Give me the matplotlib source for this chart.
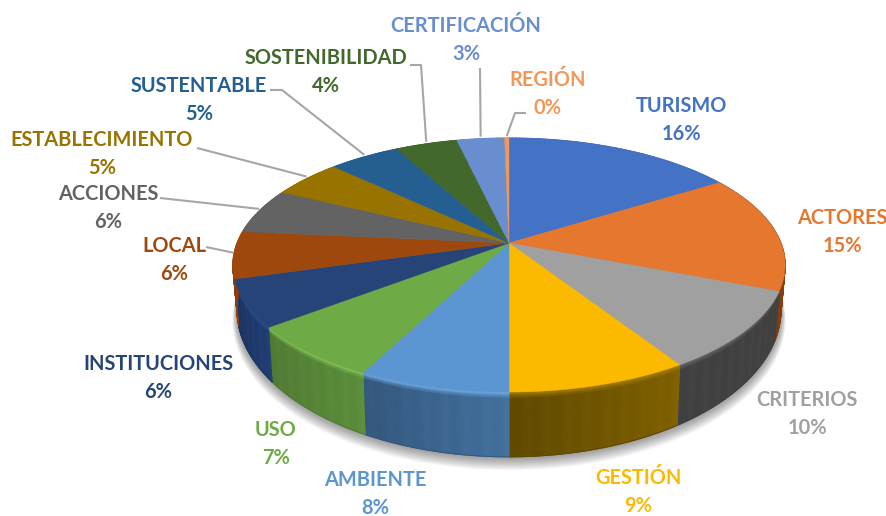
import numpy as np
import matplotlib
matplotlib.use("Agg")
import matplotlib.pyplot as plt
from matplotlib.patches import Polygon

categories = ["TURISMO", "ACTORES", "CRITERIOS", "GESTIÓN", "AMBIENTE", "USO", "INSTITUCIONES",
              "LOCAL", "ACCIONES", "ESTABLECIMIENTO", "SUSTENTABLE", "SOSTENIBILIDAD",
              "CERTIFICACIÓN", "REGIÓN"]
values = [16.0, 15.0, 10.0, 9.0, 7.5, 7.0, 6.0, 6.0, 5.8, 4.9, 4.9, 4.3, 3.3, 0.3]
pct_labels = ["16%", "15%", "10%", "9%", "8%", "7%", "6%", "6%", "6%", "5%", "5%", "4%", "3%", "0%"]

colors = ["#4472C4", "#E6772E", "#A0A0A0", "#FBB900", "#5B96D3", "#6EAB47", "#264478",
          "#9E480E", "#636363", "#997300", "#255E91", "#43682B", "#698ED0", "#F1975A"]
side_start = ["#2f4f8a", "#a04f18", "#404040", "#7f6000", "#41709c", "#5a8c3a", "#1f3d72",
              "#8a3e0b", "#444444", "#6b5000", "#1a4366", "#2f491e", "#4a6491", "#a96a3f"]
side_end = ["#2f4f8a", "#843c0c", "#404040", "#5f4900", "#33567c", "#4f7a33", "#1b3360",
            "#8a3e0b", "#444444", "#6b5000", "#1a4366", "#2f491e", "#4a6491", "#a96a3f"]
rim = ["#4472C4", "#7a4a20", "#6a6a6a", "#a88000", "#72aee8", "#86c858", "#2c58a0",
       "#b05510", "#636363", "#997300", "#255E91", "#43682B", "#698ED0", "#F1975A"]

label_xy = [(681, 118), (842, 231), (807, 413), (638, 490), (375, 492), (276, 443), (158, 377),
            (174, 259), (108, 207), (102, 153), (199, 98), (326, 70), (466, 39), (548, 93)]
# leader-line starts for the labels that have one (category index -> path start points)
leaders = {13: [(526, 113), (515, 113)], 12: [(480, 68)], 11: [(410, 65), (421, 65)],
           10: [(270, 90), (282, 90)], 9: [(197, 148)], 8: [(160, 198)], 7: [(206, 247)]}

CX, CY, A, B, K = 509.0, 243.0, 272.0, 123.2, 0.1732
SX, SY, D = 0.985, 1.16, 41.0


def top(theta, r=1.0):
    x, y = r * np.sin(theta), r * np.cos(theta)
    d = 1 + K * y
    return CX + A * x / d, CY - B * y / d


def bottom(theta, grow=1.0):
    x, y = top(theta)
    return CX + (x - CX) * SX * grow, CY + (y - CY) * SY * grow + D


def hex2rgb(h):
    return np.array(matplotlib.colors.to_rgb(h))


plt.rcParams["font.family"] = ["Lato", "DejaVu Sans"]
fig = plt.figure(figsize=(8.87, 5.16), dpi=100)
ax = fig.add_axes([0, 0, 1, 1])
ax.set_xlim(0, 887)
ax.set_ylim(516, 0)
ax.axis("off")

total = sum(values)
edges = np.cumsum([0] + values) / total * 2 * np.pi

# soft shadow under the pie
circle = np.linspace(0, 2 * np.pi, 360)
for off in np.linspace(14, 0, 15):
    bx, by = bottom(circle, 1 + off * 0.0012)
    ax.add_patch(Polygon(np.c_[bx, by + off * 0.75], closed=True, fc="black", ec="none",
                         alpha=0.03, zorder=1))

# side wall: one smooth mesh per wedge
FR = np.array([0.0, 0.05, 0.10, 1.0])
for i, v in enumerate(values):
    n = max(2, int(v * 4))
    th = np.linspace(edges[i], edges[i + 1], n + 1)
    s0, s1, rc = hex2rgb(side_start[i]), hex2rgb(side_end[i]), hex2rgb(rim[i])
    xt, yt = top(th)
    xb, yb = bottom(th)
    X = np.array([xt + (xb - xt) * u for u in FR])
    Y = np.array([yt + (yb - yt) * u for u in FR])
    C = np.zeros((len(FR), n + 1, 3))
    for j in range(n + 1):
        side = s0 + (s1 - s0) * (j / n) + (0.012 if j % 4 < 2 else 0.0)
        side = np.clip(side, 0, 1)
        C[0, j] = rc
        C[1, j] = (rc + side) / 2
        C[2, j] = side
        C[3, j] = side
    ax.pcolormesh(X, Y, C, shading="gouraud", zorder=2)
    ax.plot(xb, yb, color=side_end[i], lw=0.7, zorder=2)

# top face
for i, v in enumerate(values):
    th = np.linspace(edges[i], edges[i + 1], max(4, int(v * 8)))
    x, y = top(th)
    pts = np.r_[[[CX, CY]], np.c_[x, y]]
    ax.add_patch(Polygon(pts, closed=True, fc=colors[i], ec=colors[i], lw=0.3, zorder=3))

# leader lines
for i, start in leaders.items():
    mid = (edges[i] + edges[i + 1]) / 2
    ex, ey = top(mid, 1.0)
    xs = [p[0] for p in start] + [ex]
    ys = [p[1] for p in start] + [ey - 2]
    ax.plot(xs, ys, color="#A6A6A6", lw=1.5, zorder=4, solid_capstyle="butt")

# labels
for name, pct, (lx, ly), c in zip(categories, pct_labels, label_xy, colors):
    ax.text(lx, ly - 12.5, name, color=c, ha="center", va="center", fontsize=14.4, fontweight="bold", zorder=5)
    ax.text(lx, ly + 15.5, pct, color=c, ha="center", va="center", fontsize=14.4, fontweight="bold", zorder=5)

ax.set_xlim(0, 887)
ax.set_ylim(516, 0)
fig.savefig("out.png", dpi=100)
